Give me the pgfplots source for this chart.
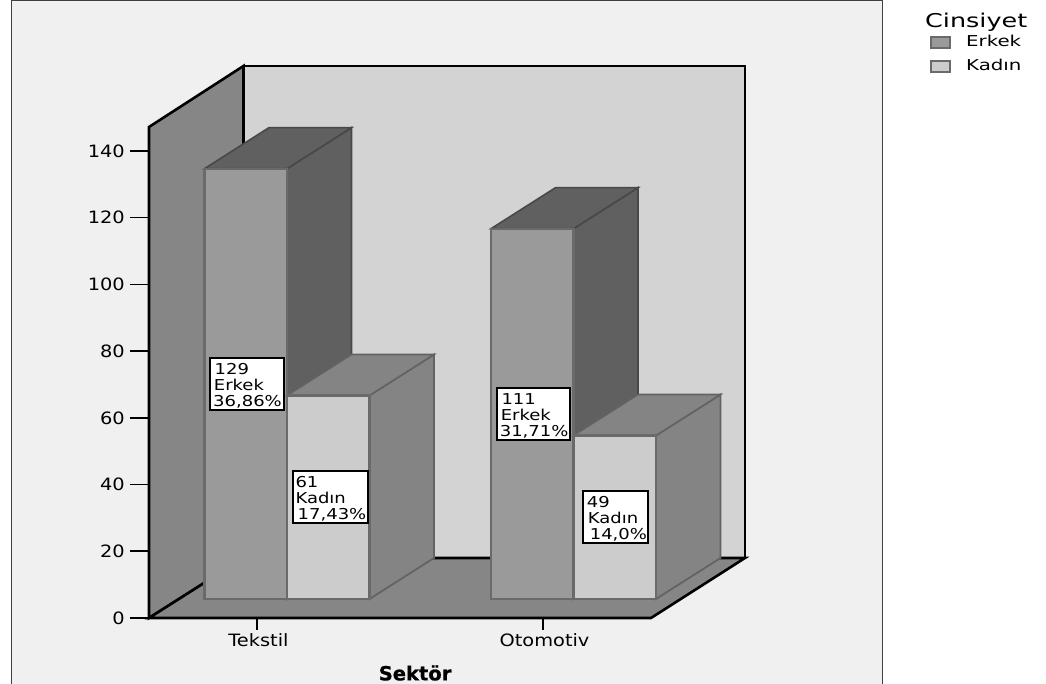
\documentclass[border=0pt]{standalone}
\usepackage{fontspec}
\usepackage{pgfplots}
\pgfplotsset{compat=1.18}
\setmainfont{DejaVu Sans}
\newfontfamily\tickfont[FakeStretch=1.14]{DejaVu Sans}
\newfontfamily\datafont[FakeStretch=1.2]{DejaVu Sans}
\newfontfamily\legendfont[FakeStretch=1.32]{DejaVu Sans}
\newfontfamily\titlefont[FakeStretch=1.34]{DejaVu Sans}
\newfontfamily\namefont[FakeBold=0.6]{DejaVu Sans Bold}

\definecolor{panel}{HTML}{F0F0F0}
\definecolor{backwall}{HTML}{D3D3D3}
\definecolor{sidewall}{HTML}{868686}
\definecolor{erkekfront}{HTML}{9A9A9A}
\definecolor{erkekdark}{HTML}{606060}
\definecolor{kadinfront}{HTML}{CCCCCC}
\definecolor{kadindark}{HTML}{848484}
\definecolor{edgefront}{HTML}{6A6A6A}
\definecolor{edgedark}{HTML}{484848}

\newcommand{\valuebox}[5]{%
  \node[draw=black, line width=2pt, fill=white, inner ysep=0pt, inner xsep=3pt, minimum height=52pt,
        minimum width=#2, text width=#2-6pt, align=left,
        font=\datafont\fontsize{15}{16}\selectfont] at (axis cs:#1) {\rule{0pt}{15pt}#3\\#4\\#5};}

\begin{document}
\begin{tikzpicture}
  \useasboundingbox (0,0) rectangle (1046pt,684pt);
  \fill[panel] (11.5pt,0) rectangle (882pt,684pt);
  \draw[black!75, line width=1pt] (11.5pt,0) -- (11.5pt,683.5pt) -- (882pt,683.5pt) -- (882pt,0);

  % Walls, floor and value axis: 0 sits on the front edge of the floor
  \begin{axis}[
    at={(149pt,66pt)}, anchor=south west,
    scale only axis, width=502pt, height=491pt,
    xmin=149, xmax=651, ymin=0, ymax=147.18,
    clip=false,
    hide x axis,
    axis y line*=left,
    axis line style={-, line width=2.6pt, black},
    ytick={0,20,...,140},
    major tick length=19pt,
    tick align=outside,
    ytick style={line width=1.6pt, black},
    /pgf/number format/assume math mode=true,
    yticklabel style={font=\tickfont\fontsize{17}{17}\selectfont, inner sep=0pt, xshift=-5pt},
  ]
    \addplot[fill=sidewall, draw=black, line width=2.6pt]
      coordinates {(149,0) (149,147.18) (243.5,165.47) (243.5,17.99)} -- cycle;
    \addplot[fill=backwall, draw=black, line width=2.6pt]
      coordinates {(243.5,17.99) (243.5,165.47) (745,165.47) (745,17.99)} -- cycle;
    \addplot[fill=sidewall, draw=black, line width=2.6pt]
      coordinates {(149,0) (243.5,17.99) (745,17.99) (651,0)} -- cycle;
  \end{axis}

  % Bars: same scale, with their foot raised to the middle of the floor
  \begin{axis}[
    at={(149pt,66pt)}, anchor=south west,
    scale only axis, width=502pt, height=491pt,
    xmin=149, xmax=651, ymin=-5.695, ymax=141.485,
    clip=false,
    hide y axis,
    axis x line*=bottom,
    axis line style={-, line width=2.6pt, black},
    xtick={256.5,542.5},
    xticklabels={Tekstil,Otomotiv},
    major tick length=12pt,
    tick align=outside,
    xtick style={line width=2pt, black},
    xticklabel style={font=\tickfont\fontsize{17}{17}\selectfont, xshift=2pt, yshift=-1pt, inner sep=2pt},
    every axis x label/.style={at={(axis description cs:0.53,-0.112)}, anchor=center},
    xlabel={\namefont\fontsize{19.5}{19.5}\selectfont Sektör},
    legend style={at={(1.556,1.1857)}, anchor=north west, draw=none, fill=none,
      font=\legendfont\fontsize{15}{15}\selectfont, row sep=11.5pt, inner sep=0pt,
      nodes={inner sep=0pt, text height=10pt, text depth=2pt}},
    legend image code/.code={\draw[#1, line width=1.8pt] (0pt,-5.5pt) rectangle (19pt,5.5pt);},
    legend cell align=left,
  ]
    % Erkek: side and top faces, then the front faces
    \addplot[fill=erkekdark, draw=edgedark, line width=1.8pt, forget plot]
      coordinates {(287,0) (287,129) (351.5,141.29) (351.5,12.29)} -- cycle;
    \addplot[fill=erkekdark, draw=edgedark, line width=1.6pt, forget plot]
      coordinates {(204.5,129) (287,129) (351.5,141.29) (269,141.29)} -- cycle;
    \addplot[fill=erkekdark, draw=edgedark, line width=1.8pt, forget plot]
      coordinates {(573.5,0) (573.5,111) (638,123.29) (638,12.29)} -- cycle;
    \addplot[fill=erkekdark, draw=edgedark, line width=1.6pt, forget plot]
      coordinates {(491,111) (573.5,111) (638,123.29) (555.5,123.29)} -- cycle;
    \addplot[ybar, bar width=82.5, bar shift=0pt, fill=erkekfront, draw=edgefront, line width=2.2pt]
      coordinates {(245.75,129) (532.25,111)};
    \addlegendentry{\hspace*{15pt}Erkek}

    % Kadın: side and top faces, then the front faces
    \addplot[fill=kadindark, draw=edgedark!85!white, line width=1.8pt, forget plot]
      coordinates {(369.5,0) (369.5,61) (434,73.29) (434,12.29)} -- cycle;
    \addplot[fill=kadindark, draw=edgedark!85!white, line width=1.6pt, forget plot]
      coordinates {(287,61) (369.5,61) (434,73.29) (351.5,73.29)} -- cycle;
    \addplot[fill=kadindark, draw=edgedark!85!white, line width=1.8pt, forget plot]
      coordinates {(656,0) (656,49) (720.5,61.29) (720.5,12.29)} -- cycle;
    \addplot[fill=kadindark, draw=edgedark!85!white, line width=1.6pt, forget plot]
      coordinates {(573.5,49) (656,49) (720.5,61.29) (638,61.29)} -- cycle;
    \addplot[ybar, bar width=82.5, bar shift=0pt, fill=kadinfront, draw=edgefront, line width=2.2pt]
      coordinates {(328.25,61) (614.75,49)};
    \addlegendentry{\hspace*{15pt}Kadın}

    % Value boxes at half the height of each bar
    \valuebox{247.2,64.5}{74pt}{\hspace*{1.5pt}129}{\hspace*{0.7pt}Erkek}{36,86\%}
    \valuebox{330,30.5}{75pt}{61}{Kadın}{\hspace*{2.2pt}17,43\%}
    \valuebox{533.3,55.5}{73pt}{\hspace*{1.7pt}111}{\hspace*{1pt}Erkek}{31,71\%}
    \valuebox{615.6,24.5}{65pt}{\hspace*{0.7pt}49}{\hspace*{1.7pt}Kadın}{\hspace*{3.7pt}14,0\%}

    \node[anchor=west, inner sep=0pt, font=\titlefont\fontsize{19}{19}\selectfont]
      at (axis cs:925,173) {Cinsiyet};
  \end{axis}
\end{tikzpicture}
\end{document}
